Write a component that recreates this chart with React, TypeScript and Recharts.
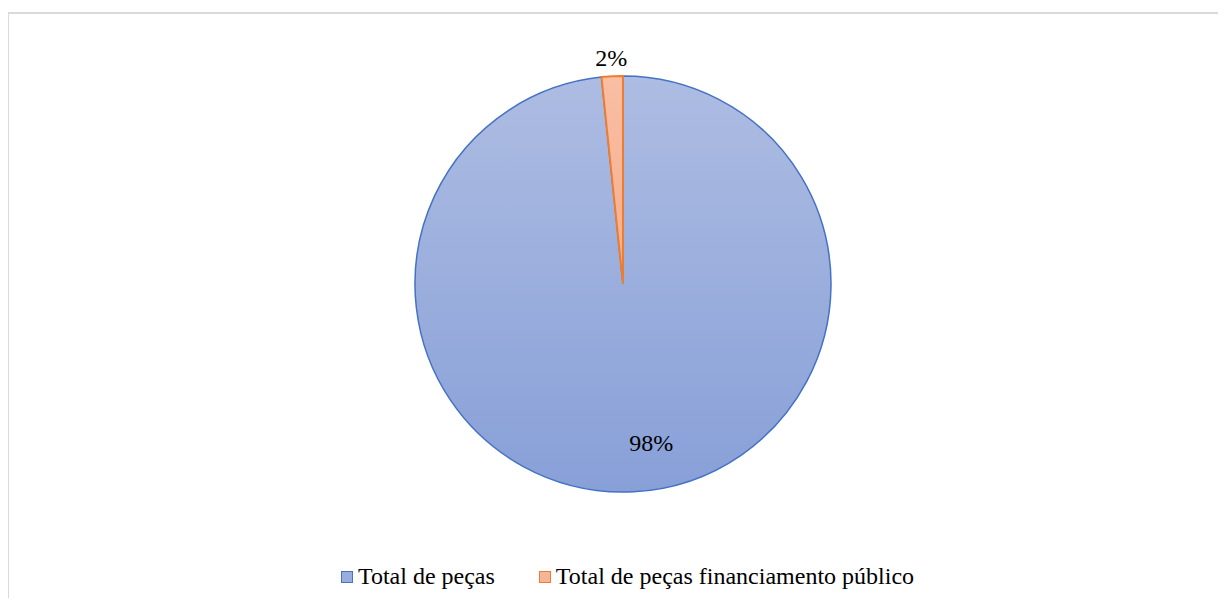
import React from 'react';
import { PieChart, Pie, Cell, Legend } from 'recharts';

const CATEGORIES = ['Total de peças', 'Total de peças financiamento público'];
const VALUES = [98.35, 1.65];
const LABELS = ['98%', '2%'];

const FILL_IDS = ['gradBlue', 'gradOrange'];
const STROKES = ['#4472C4', '#ED7D31'];
const SWATCH = ['#9AAEDD', '#F7B597'];
const FONT = 'Liberation Serif, serif';

const data = CATEGORIES.map((name, i) => ({ name, value: VALUES[i], label: LABELS[i] }));

const RADIAN = Math.PI / 180;

const renderLabel = (props: any) => {
  const { cx, cy, midAngle, outerRadius, index } = props;
  // big slice: inside near the bottom, small slice: outside
  const r = index === 0 ? outerRadius * 0.765 : outerRadius + 18;
  const dx = index === 0 ? 20 : 0;
  const x = cx + r * Math.cos(-midAngle * RADIAN) + dx;
  const y = cy + r * Math.sin(-midAngle * RADIAN);
  return (
    <text x={x} y={y} fill="#000" fontSize={24} fontFamily={FONT} textAnchor="middle" dominantBaseline="central">
      {data[index].label}
    </text>
  );
};

const CustomLegend = () => (
  <div style={{ display: 'flex', justifyContent: 'center', paddingLeft: 20, fontFamily: FONT, fontSize: 24, color: '#000' }}>
    {data.map((d, i) => (
      <div key={d.name} style={{ display: 'flex', alignItems: 'center', marginRight: i === 0 ? 44 : 0 }}>
        <span style={{ display: 'inline-block', width: 10, height: 10, background: SWATCH[i], border: `1.5px solid ${STROKES[i]}`, marginRight: 5 }} />
        <span>{d.name}</span>
      </div>
    ))}
  </div>
);

export default function App() {
  return (
    <div style={{ position: 'relative', left: -1, top: 4, width: 1217, height: 588, borderTop: '2px solid #D9D9D9', borderLeft: '2px solid #D9D9D9', background: '#fff' }}>
      <PieChart width={1217} height={588} margin={{ top: 0, right: 0, bottom: 0, left: 0 }}>
        <defs>
          <linearGradient id="gradBlue" x1="0" y1="0" x2="0" y2="1">
            <stop offset="0%" stopColor="#ADBCE2" />
            <stop offset="100%" stopColor="#88A0D8" />
          </linearGradient>
          <linearGradient id="gradOrange" x1="0" y1="0" x2="0" y2="1">
            <stop offset="0%" stopColor="#F9BEA4" />
            <stop offset="100%" stopColor="#F6AE8C" />
          </linearGradient>
        </defs>
        <Pie
          data={data}
          dataKey="value"
          nameKey="name"
          cx={614}
          cy={270}
          outerRadius={208}
          startAngle={90}
          endAngle={-270}
          label={renderLabel}
          labelLine={false}
          isAnimationActive={false}
        >
          {data.map((_, i) => (
            <Cell key={i} fill={`url(#${FILL_IDS[i]})`} stroke={STROKES[i]} strokeWidth={i === 0 ? 1.5 : 2} />
          ))}
        </Pie>
        <Legend verticalAlign="bottom" content={<CustomLegend />} wrapperStyle={{ bottom: 12 }} />
      </PieChart>
    </div>
  );
}
